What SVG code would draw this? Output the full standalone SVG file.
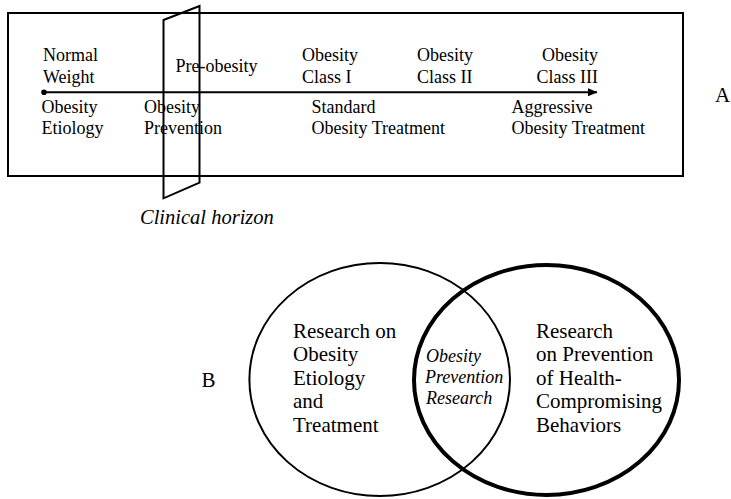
<svg xmlns="http://www.w3.org/2000/svg" width="731" height="499" viewBox="0 0 731 499" font-family="'Liberation Serif', 'Times New Roman', 'DejaVu Serif', Times, serif">
<style>
text{font-family:'Liberation Serif','Times New Roman','DejaVu Serif',Times,serif;fill:#000}
.t{font-size:18px}
.v{font-size:21px}
.vi{font-size:18px;font-style:italic}
.lbl{font-size:21px}
.ln{fill:none;stroke:#000;stroke-width:2}
</style>
<defs>
<marker id="arr" markerWidth="10" markerHeight="8" refX="9" refY="4" orient="auto" markerUnits="userSpaceOnUse">
<path d="M0,0 L9.5,4 L0,8 Z" fill="#000"/>
</marker>
</defs>
<rect width="731" height="499" fill="#fff"/>
<g id="panelA">
<rect class="ln" x="8" y="13" width="675" height="163"/>
</g>
<g id="connectors">
<circle cx="44" cy="92.3" r="2.8" fill="#000"/>
<line x1="44" y1="92.3" x2="597" y2="92.3" stroke="#000" stroke-width="2" marker-end="url(#arr)"/>
</g>
<g id="normal-weight"><text class="t" x="43" y="61">Normal</text><text class="t" x="43" y="82.5">Weight</text></g>
<g id="pre-obesity"><text class="t" x="175.5" y="72">Pre-obesity</text></g>
<g id="class1"><text class="t" x="302" y="61">Obesity</text><text class="t" x="302" y="82.5">Class I</text></g>
<g id="class2"><text class="t" x="417" y="61">Obesity</text><text class="t" x="417" y="82.5">Class II</text></g>
<g id="class3"><text class="t" x="598" y="61" text-anchor="end">Obesity</text><text class="t" x="598" y="82.5" text-anchor="end">Class III</text></g>
<g id="etiology"><text class="t" x="41.5" y="113">Obesity</text><text class="t" x="41.5" y="134">Etiology</text></g>
<g id="prevention"><text class="t" x="144" y="113">Obesity</text><text class="t" x="144" y="134">Prevention</text></g>
<g id="standard"><text class="t" x="311.5" y="113">Standard</text><text class="t" x="311.5" y="134">Obesity Treatment</text></g>
<g id="aggressive"><text class="t" x="511.5" y="113">Aggressive</text><text class="t" x="511.5" y="134">Obesity Treatment</text></g>
<g id="clinical-horizon">
<polygon class="ln" points="163.5,20 199.5,6 199.5,182.7 163.5,198.3"/>
<text x="140" y="224" style="font-size:20.5px;font-style:italic">Clinical horizon</text>
</g>
<g id="label-A"><text class="lbl" x="715" y="101.5">A</text></g>
<g id="label-B"><text class="lbl" x="201.5" y="386.5">B</text></g>
<g id="venn-left">
<ellipse class="ln" cx="379.7" cy="379.5" rx="130.3" ry="116.5"/>
<text class="v" x="293" y="338">Research on</text>
<text class="v" x="293" y="361">Obesity</text>
<text class="v" x="293" y="385">Etiology</text>
<text class="v" x="293" y="408">and</text>
<text class="v" x="293" y="431.5">Treatment</text>
</g>
<g id="venn-right">
<ellipse cx="546.5" cy="380" rx="132.5" ry="115" fill="none" stroke="#000" stroke-width="4"/>
<text class="v" x="536" y="338">Research</text>
<text class="v" x="536" y="361">on Prevention</text>
<text class="v" x="536" y="385">of Health-</text>
<text class="v" x="536" y="408">Compromising</text>
<text class="v" x="536" y="431.5">Behaviors</text>
</g>
<g id="venn-overlap">
<text class="vi" x="426" y="361.5">Obesity</text>
<text class="vi" x="425" y="383">Prevention</text>
<text class="vi" x="426" y="404">Research</text>
</g>
</svg>
